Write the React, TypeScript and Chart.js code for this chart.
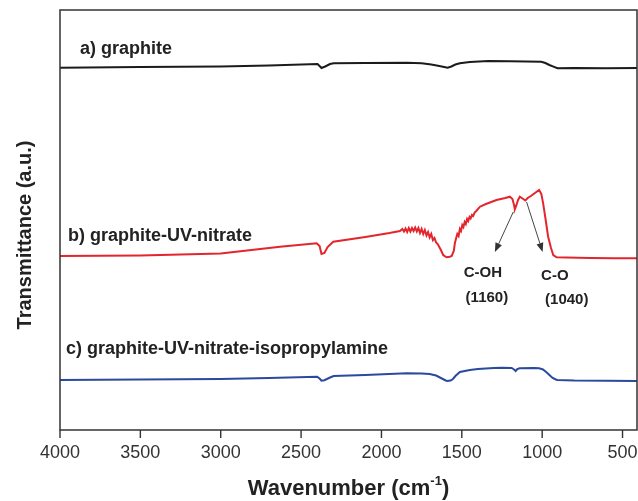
import React, { useEffect, useRef } from "react";
import { Chart, registerables } from "chart.js";

Chart.register(...registerables);

// Wavenumber tick labels
const X_TICKS = [4000, 3500, 3000, 2500, 2000, 1500, 1000, 500];

// a) graphite
const BLACK_WN = [4000, 3500, 3000, 2700, 2398, 2385, 2373, 2350, 2320, 2297, 2100, 1842, 1750, 1690, 1640, 1610, 1588, 1565, 1540, 1512, 1450, 1335, 1200, 1100, 1006, 980, 955, 930, 905, 800, 600, 410];
const BLACK_T = [362.3, 363, 363.5, 364.5, 366, 364, 362, 363.5, 366, 366.7, 367, 367.3, 366.8, 365.5, 364, 363, 362.3, 363.5, 365.5, 366.7, 368, 369, 368.8, 368.5, 368.3, 367, 365, 363.3, 361.7, 362, 361.8, 362];

// b) graphite-UV-nitrate
const RED_WN = [4000, 3500, 3000, 2631, 2403, 2385, 2373, 2355, 2335, 2300, 2100, 1950, 1885, 1870, 1860, 1850, 1840, 1830, 1820, 1810, 1800, 1790, 1780, 1770, 1760, 1750, 1740, 1730, 1720, 1710, 1700, 1690, 1680, 1670, 1660, 1650, 1630, 1616, 1595, 1575, 1563, 1550, 1543, 1535, 1528, 1520, 1512, 1505, 1497, 1490, 1482, 1475, 1467, 1460, 1452, 1445, 1437, 1430, 1420, 1410, 1387, 1350, 1284, 1230, 1201, 1185, 1175, 1170, 1162, 1150, 1139, 1118, 1105, 1090, 1070, 1045, 1019, 1005, 994, 980, 963, 945, 931, 910, 850, 700, 550, 410];
const RED_T = [174, 174.5, 176.5, 183.3, 186.7, 184, 176, 177, 183, 188.3, 193, 197, 199, 201, 198.5, 201.5, 198, 202, 198.5, 202, 199, 202.5, 198.5, 202, 197, 201, 196, 200, 194.5, 198, 192.5, 196, 190, 192, 187.5, 186, 180, 175, 172.7, 173.3, 174, 179, 187, 192, 196, 194, 201, 199, 205, 203, 208, 206, 211, 209, 213, 211.5, 215, 214, 217.5, 219, 223.3, 226, 230, 232, 233.3, 231, 225, 220.7, 224, 230, 233.3, 231, 229.5, 232, 234, 237, 240, 236, 226.7, 212, 193.3, 182, 175, 172.7, 172.5, 172, 171.8, 171.7];

// c) graphite-UV-nitrate-isopropylamine
const BLUE_WN = [4000, 3500, 3000, 2700, 2400, 2385, 2373, 2355, 2320, 2297, 2100, 1842, 1750, 1700, 1660, 1630, 1600, 1590, 1570, 1555, 1540, 1512, 1450, 1400, 1300, 1250, 1190, 1175, 1165, 1155, 1140, 1050, 1019, 995, 975, 955, 935, 915, 905, 800, 600, 410];
const BLUE_T = [50, 50.5, 51, 52, 53.3, 51.5, 49.3, 49.8, 52.5, 54, 55, 56.7, 56.5, 56, 54.5, 52, 49.5, 49, 49.5, 51, 54, 58, 60, 61, 62, 62.3, 62, 60.5, 59, 61, 61.7, 62, 61.7, 60.5, 58, 55, 52, 50.5, 50, 49.5, 49.3, 49];

const SERIES_LABELS = ["a) graphite", "b) graphite-UV-nitrate", "c) graphite-UV-nitrate-isopropylamine"];
const PEAK_NAMES = ["C-OH", "C-O"];
const PEAK_WN = ["(1160)", "(1040)"];

const FONT = "'Liberation Sans', Arial, Helvetica, sans-serif";

function pts(xs: number[], ys: number[]) {
  return xs.map((x, i) => ({ x, y: ys[i] }));
}

const decor = {
  id: "decor",
  afterDraw(chart: any) {
    const { ctx, chartArea: a, scales } = chart;
    const xs = scales.x;
    const ys = scales.y;
    const X = (v: number) => xs.getPixelForValue(v);
    const Y = (v: number) => ys.getPixelForValue(v);
    ctx.save();
    // frame
    ctx.strokeStyle = "#333";
    ctx.lineWidth = 1.5;
    ctx.strokeRect(a.left, a.top, a.right - a.left, a.bottom - a.top);
    // tick marks
    ctx.lineWidth = 1.4;
    ctx.beginPath();
    X_TICKS.forEach((t) => {
      const px = X(t);
      ctx.moveTo(px, a.bottom);
      ctx.lineTo(px, a.bottom + 8);
    });
    ctx.stroke();

    // series labels
    ctx.fillStyle = "#222";
    ctx.textBaseline = "middle";
    ctx.textAlign = "left";
    ctx.font = `bold 18px ${FONT}`;
    ctx.fillText(SERIES_LABELS[0], X(3876), Y(381));
    ctx.fillText(SERIES_LABELS[1], X(3950), Y(194));
    ctx.fillText(SERIES_LABELS[2], X(3963), Y(81));

    // arrows
    const arrow = (x1: number, y1: number, x2: number, y2: number) => {
      const ang = Math.atan2(y2 - y1, x2 - x1);
      const L = 9, W = 3.5;
      const bx = x2 - L * Math.cos(ang);
      const by = y2 - L * Math.sin(ang);
      ctx.strokeStyle = "#444";
      ctx.lineWidth = 1;
      ctx.beginPath();
      ctx.moveTo(x1, y1);
      ctx.lineTo(bx, by);
      ctx.stroke();
      ctx.fillStyle = "#333";
      ctx.beginPath();
      ctx.moveTo(x2, y2);
      ctx.lineTo(bx + W * Math.sin(ang), by - W * Math.cos(ang));
      ctx.lineTo(bx - W * Math.sin(ang), by + W * Math.cos(ang));
      ctx.closePath();
      ctx.fill();
    };
    arrow(X(1180), Y(218), X(1294), Y(178));
    arrow(X(1097), Y(228), X(997), Y(178));

    ctx.fillStyle = "#222";
    ctx.textAlign = "center";
    ctx.font = `bold 15px ${FONT}`;
    ctx.fillText(PEAK_NAMES[0], X(1369), Y(157));
    ctx.fillText(PEAK_WN[0], X(1344), Y(132));
    ctx.fillText(PEAK_NAMES[1], X(921), Y(154));
    ctx.fillText(PEAK_WN[1], X(847), Y(130));

    // axis titles
    const cx = (a.left + a.right) / 2;
    ctx.font = `bold 22px ${FONT}`;
    const t1 = "Wavenumber (cm";
    const sup = "-1";
    const t2 = ")";
    const w1 = ctx.measureText(t1).width;
    const w2 = ctx.measureText(t2).width;
    ctx.font = `bold 13px ${FONT}`;
    const ws = ctx.measureText(sup).width;
    const total = w1 + ws + w2;
    let sx = cx - total / 2;
    const ty = 489;
    ctx.textAlign = "left";
    ctx.textBaseline = "middle";
    ctx.font = `bold 22px ${FONT}`;
    ctx.fillText(t1, sx, ty);
    sx += w1;
    ctx.font = `bold 13px ${FONT}`;
    ctx.fillText(sup, sx, ty - 8);
    sx += ws;
    ctx.font = `bold 22px ${FONT}`;
    ctx.fillText(t2, sx, ty);

    ctx.translate(25, 235);
    ctx.rotate(-Math.PI / 2);
    ctx.textAlign = "center";
    ctx.font = `bold 20px ${FONT}`;
    ctx.fillText("Transmittance (a.u.)", 0, 0);
    ctx.restore();
  },
};

export default function App() {
  const ref = useRef<HTMLCanvasElement>(null);
  useEffect(() => {
    document.body.style.margin = "0";
    const chart = new Chart(ref.current!, {
      type: "line",
      data: {
        datasets: [
          { label: "a", data: pts(BLACK_WN, BLACK_T), borderColor: "#1b1b1b", borderWidth: 2 },
          { label: "b", data: pts(RED_WN, RED_T), borderColor: "#e3262d", borderWidth: 2 },
          { label: "c", data: pts(BLUE_WN, BLUE_T), borderColor: "#2b4a9e", borderWidth: 2 },
        ],
      },
      options: {
        animation: false,
        responsive: false,
        devicePixelRatio: 1,
        layout: { padding: { left: 60, top: 10, right: 1, bottom: 0 } },
        elements: { point: { radius: 0 }, line: { tension: 0 } },
        plugins: { legend: { display: false }, tooltip: { enabled: false } },
        scales: {
          x: {
            type: "linear",
            reverse: true,
            min: 410,
            max: 4000,
            afterBuildTicks: (s: any) => {
              s.ticks = X_TICKS.map((v) => ({ value: v }));
            },
            afterFit: (s: any) => {
              s.height = 71;
              s.paddingLeft = 0;
              s.paddingRight = 0;
            },
            ticks: {
              font: { family: FONT, size: 18 },
              color: "#333",
              padding: 12,
              maxRotation: 0,
              autoSkip: false,
              callback: (v: any) => String(v),
            },
            grid: { display: false, drawTicks: false },
            border: { display: false },
          },
          y: { type: "linear", min: 0, max: 420, display: false },
        },
      },
      plugins: [decor],
    });
    return () => chart.destroy();
  }, []);
  return (
    <div style={{ width: 638, height: 501 }}>
      <canvas ref={ref} width={638} height={501} style={{ width: 638, height: 501 }} />
    </div>
  );
}
